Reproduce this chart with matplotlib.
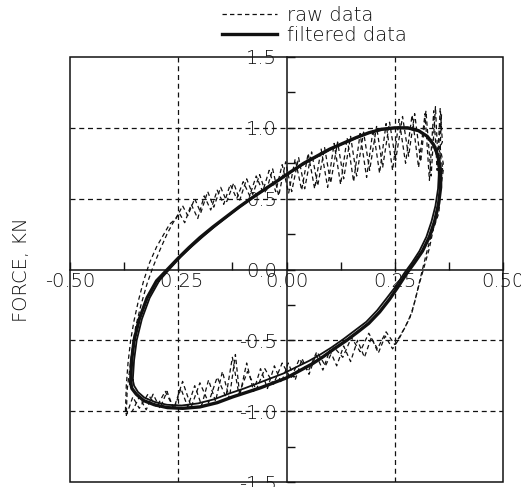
import matplotlib
matplotlib.use("Agg")
import matplotlib.pyplot as plt
from matplotlib.patches import Rectangle
from matplotlib.ticker import MultipleLocator, FormatStrFormatter

plt.rcParams["font.family"] = ["DejaVu Sans"]
plt.rcParams["axes.unicode_minus"] = False

# Hysteresis loops: displacement (x) vs. force in kN (y)
raw_cycle1 = [
    (-0.368, -0.85), (-0.362, -0.70), (-0.356, -0.55), (-0.348, -0.40), (-0.336, -0.25),
    (-0.322, -0.10), (-0.308, 0.02), (-0.292, 0.14), (-0.276, 0.25), (-0.262, 0.33),
    (-0.248, 0.40), (-0.235, 0.33), (-0.22, 0.46), (-0.205, 0.36), (-0.19, 0.52),
    (-0.175, 0.42), (-0.16, 0.56), (-0.145, 0.46), (-0.13, 0.60), (-0.115, 0.50),
    (-0.10, 0.62), (-0.085, 0.52), (-0.07, 0.66), (-0.055, 0.55), (-0.04, 0.70),
    (-0.025, 0.55), (-0.01, 0.74), (0.005, 0.54), (0.02, 0.78), (0.035, 0.56),
    (0.05, 0.82), (0.065, 0.57), (0.08, 0.85), (0.095, 0.58), (0.11, 0.89),
    (0.125, 0.60), (0.14, 0.93), (0.155, 0.62), (0.17, 0.96), (0.185, 0.65),
    (0.20, 0.99), (0.215, 0.68), (0.23, 1.03), (0.245, 0.70), (0.26, 1.06),
    (0.275, 0.75), (0.29, 1.09), (0.305, 0.72), (0.32, 1.10), (0.33, 0.63),
    (0.34, 1.12), (0.348, 0.70), (0.355, 1.14), (0.36, 0.90), (0.352, 0.85),
    (0.362, 0.70), (0.355, 0.55), (0.352, 0.40), (0.335, 0.25), (0.322, 0.10),
    (0.31, -0.05), (0.30, -0.18), (0.29, -0.30), (0.275, -0.40), (0.262, -0.47),
    (0.25, -0.53), (0.23, -0.44), (0.21, -0.56), (0.19, -0.45), (0.17, -0.58),
    (0.15, -0.48), (0.13, -0.62), (0.11, -0.55), (0.09, -0.68), (0.07, -0.58),
    (0.05, -0.72), (0.03, -0.63), (0.01, -0.77), (-0.01, -0.66), (-0.03, -0.81),
    (-0.05, -0.70), (-0.07, -0.85), (-0.09, -0.72), (-0.11, -0.88), (-0.125, -0.62),
    (-0.14, -0.90), (-0.16, -0.76), (-0.18, -0.94), (-0.20, -0.80), (-0.22, -0.97),
    (-0.24, -0.79), (-0.26, -0.98), (-0.28, -0.86), (-0.30, -0.97), (-0.32, -0.88),
    (-0.34, -0.98), (-0.355, -0.90), (-0.37, -1.03), (-0.368, -0.85),
]

raw_cycle2 = [
    (-0.372, -1.00), (-0.37, -0.82), (-0.366, -0.66), (-0.36, -0.50), (-0.352, -0.36),
    (-0.342, -0.22), (-0.33, -0.08), (-0.316, 0.05), (-0.30, 0.16), (-0.285, 0.24),
    (-0.27, 0.32), (-0.255, 0.36), (-0.24, 0.45), (-0.228, 0.38), (-0.212, 0.50),
    (-0.198, 0.40), (-0.182, 0.55), (-0.168, 0.44), (-0.152, 0.58), (-0.138, 0.48),
    (-0.122, 0.61), (-0.108, 0.49), (-0.092, 0.64), (-0.078, 0.53), (-0.062, 0.67),
    (-0.048, 0.54), (-0.032, 0.71), (-0.018, 0.52), (-0.002, 0.76), (0.012, 0.55),
    (0.028, 0.79), (0.042, 0.57), (0.058, 0.83), (0.072, 0.59), (0.088, 0.86),
    (0.102, 0.61), (0.118, 0.90), (0.132, 0.64), (0.148, 0.94), (0.162, 0.66),
    (0.178, 0.97), (0.192, 0.70), (0.208, 1.01), (0.222, 0.72), (0.238, 1.04),
    (0.252, 0.77), (0.268, 1.08), (0.282, 0.80), (0.296, 1.10), (0.31, 0.76),
    (0.322, 1.12), (0.334, 0.66), (0.344, 1.15), (0.352, 0.62), (0.358, 1.10),
    (0.352, 0.90), (0.362, 0.75), (0.354, 0.58), (0.352, 0.44), (0.34, 0.30),
    (0.33, 0.15), (0.318, 0.02), (0.305, -0.12), (0.295, -0.24), (0.285, -0.34),
    (0.27, -0.43), (0.258, -0.50), (0.245, -0.56), (0.228, -0.47), (0.212, -0.59),
    (0.196, -0.48), (0.18, -0.62), (0.164, -0.50), (0.148, -0.65), (0.132, -0.54),
    (0.116, -0.68), (0.10, -0.57), (0.084, -0.71), (0.068, -0.60), (0.052, -0.74),
    (0.036, -0.63), (0.02, -0.78), (0.004, -0.66), (-0.012, -0.80), (-0.028, -0.68),
    (-0.044, -0.84), (-0.06, -0.70), (-0.076, -0.86), (-0.092, -0.66), (-0.108, -0.89),
    (-0.118, -0.60), (-0.132, -0.91), (-0.148, -0.72), (-0.164, -0.93), (-0.18, -0.78),
    (-0.196, -0.96), (-0.212, -0.82), (-0.228, -0.97), (-0.244, -0.84), (-0.26, -0.99),
    (-0.276, -0.86), (-0.292, -0.98), (-0.308, -0.88), (-0.324, -0.99), (-0.34, -0.90),
    (-0.356, -1.00), (-0.372, -1.02),
]

filtered_cycle1 = [
    (-0.360, -0.80), (-0.358, -0.65), (-0.352, -0.50), (-0.340, -0.35), (-0.322, -0.20),
    (-0.300, -0.08), (-0.275, 0.00), (-0.250, 0.08), (-0.225, 0.155), (-0.200, 0.225),
    (-0.170, 0.30), (-0.140, 0.37), (-0.110, 0.44), (-0.080, 0.505), (-0.050, 0.567),
    (-0.020, 0.628), (0.010, 0.69), (0.040, 0.75), (0.070, 0.80), (0.100, 0.85),
    (0.130, 0.89), (0.160, 0.93), (0.190, 0.965), (0.220, 0.99), (0.250, 1.00),
    (0.280, 1.00), (0.305, 0.98), (0.325, 0.94), (0.340, 0.88), (0.350, 0.80),
    (0.356, 0.70), (0.356, 0.58), (0.351, 0.46), (0.342, 0.34), (0.330, 0.23),
    (0.314, 0.13), (0.296, 0.05), (0.277, -0.03), (0.258, -0.12), (0.238, -0.21),
    (0.215, -0.30), (0.190, -0.38), (0.165, -0.44), (0.139, -0.50), (0.110, -0.56),
    (0.085, -0.615), (0.060, -0.665), (0.030, -0.715), (0.000, -0.765), (-0.030, -0.80),
    (-0.060, -0.835), (-0.090, -0.865), (-0.125, -0.90), (-0.160, -0.94), (-0.200, -0.97),
    (-0.240, -0.98), (-0.275, -0.975), (-0.305, -0.955), (-0.330, -0.925), (-0.347, -0.88),
    (-0.357, -0.84), (-0.360, -0.80),
]

filtered_cycle2 = [
    (-0.355, -0.78), (-0.352, -0.64), (-0.346, -0.50), (-0.334, -0.35), (-0.316, -0.20),
    (-0.294, -0.08), (-0.268, 0.01), (-0.244, 0.09), (-0.218, 0.165), (-0.192, 0.235),
    (-0.163, 0.31), (-0.134, 0.38), (-0.104, 0.45), (-0.074, 0.515), (-0.044, 0.577),
    (-0.014, 0.638), (0.016, 0.70), (0.046, 0.755), (0.076, 0.805), (0.106, 0.855),
    (0.136, 0.895), (0.166, 0.935), (0.196, 0.97), (0.226, 0.99), (0.256, 1.00),
    (0.284, 0.995), (0.308, 0.975), (0.327, 0.935), (0.341, 0.875), (0.349, 0.79),
    (0.352, 0.69), (0.350, 0.57), (0.344, 0.45), (0.335, 0.34), (0.323, 0.23),
    (0.307, 0.13), (0.290, 0.05), (0.271, -0.03), (0.252, -0.12), (0.232, -0.20),
    (0.209, -0.29), (0.184, -0.37), (0.158, -0.43), (0.132, -0.49), (0.104, -0.55),
    (0.078, -0.60), (0.052, -0.645), (0.022, -0.69), (-0.008, -0.735), (-0.038, -0.77),
    (-0.068, -0.805), (-0.098, -0.84), (-0.132, -0.875), (-0.166, -0.915), (-0.204, -0.945),
    (-0.242, -0.96), (-0.276, -0.955), (-0.304, -0.935), (-0.328, -0.905), (-0.343, -0.865),
    (-0.352, -0.82), (-0.355, -0.78),
]

x_limits = (-0.5, 0.5)
y_limits = (-1.5, 1.5)
x_grid = [-0.25, 0.25]
y_grid = [-1.0, -0.5, 0.5, 1.0]
ink = "#111111"

fig = plt.figure(figsize=(5.21, 4.87), dpi=100)
ax = fig.add_axes([70 / 521, 1 - 482 / 487, 433 / 521, 425 / 487])
ax.set_xlim(*x_limits)
ax.set_ylim(*y_limits)

# axes crossing at the origin, with a box around the plotting area
ax.spines["left"].set_position("zero")
ax.spines["bottom"].set_position("zero")
for s in ("left", "bottom"):
    ax.spines[s].set_linewidth(1.1)
    ax.spines[s].set_color(ink)
for s in ("top", "right"):
    ax.spines[s].set_visible(False)
ax.add_patch(Rectangle((0, 0), 1, 1, transform=ax.transAxes, fill=False,
                       lw=1.1, edgecolor=ink, clip_on=False, zorder=3))

for g in x_grid:
    ax.axvline(g, color=ink, lw=0.9, ls=(0, (4, 3)), zorder=1)
for g in y_grid:
    ax.axhline(g, color=ink, lw=0.9, ls=(0, (4, 3)), zorder=1)

ax.xaxis.set_major_locator(MultipleLocator(0.25))
ax.xaxis.set_minor_locator(MultipleLocator(0.125))
ax.yaxis.set_major_locator(MultipleLocator(0.5))
ax.yaxis.set_minor_locator(MultipleLocator(0.25))
ax.xaxis.set_major_formatter(FormatStrFormatter("%.2f"))
ax.yaxis.set_major_formatter(FormatStrFormatter("%.1f"))
ax.tick_params(which="both", direction="in", length=6, width=1.0, color=ink,
               labelsize=14, labelcolor=ink)
ax.tick_params(axis="x", pad=2)
ax.tick_params(axis="y", pad=7)
for lab in ax.get_xticklabels() + ax.get_yticklabels():
    lab.set_fontweight("light")

def split(points):
    return [p[0] for p in points], [p[1] for p in points]

dash = (0, (3.5, 2.5))
rx, ry = split(raw_cycle1)
raw_line, = ax.plot(rx, ry, color=ink, lw=0.9, ls=dash, zorder=4)
rx, ry = split(raw_cycle2)
ax.plot(rx, ry, color=ink, lw=0.9, ls=dash, zorder=4)

fx, fy = split(filtered_cycle1)
filt_line, = ax.plot(fx, fy, color=ink, lw=2.4, zorder=5, solid_joinstyle="round")
fx, fy = split(filtered_cycle2)
ax.plot(fx, fy, color=ink, lw=1.3, zorder=5, solid_joinstyle="round")

fig.text(22 / 521, 1 - 270 / 487, "FORCE, KN", rotation=90, ha="center",
         va="center", fontsize=14, color=ink, fontweight="light")

fig.legend([raw_line, filt_line], ["raw data", "filtered data"],
           loc="upper left", bbox_to_anchor=(220 / 521, 1 - 4 / 487), frameon=False,
           prop={"size": 14, "weight": "light"}, handlelength=2.85,
           handletextpad=0.5, labelspacing=0.03, borderaxespad=0.0,
           borderpad=0.1, labelcolor=ink)

fig.savefig("out.png", dpi=100)
